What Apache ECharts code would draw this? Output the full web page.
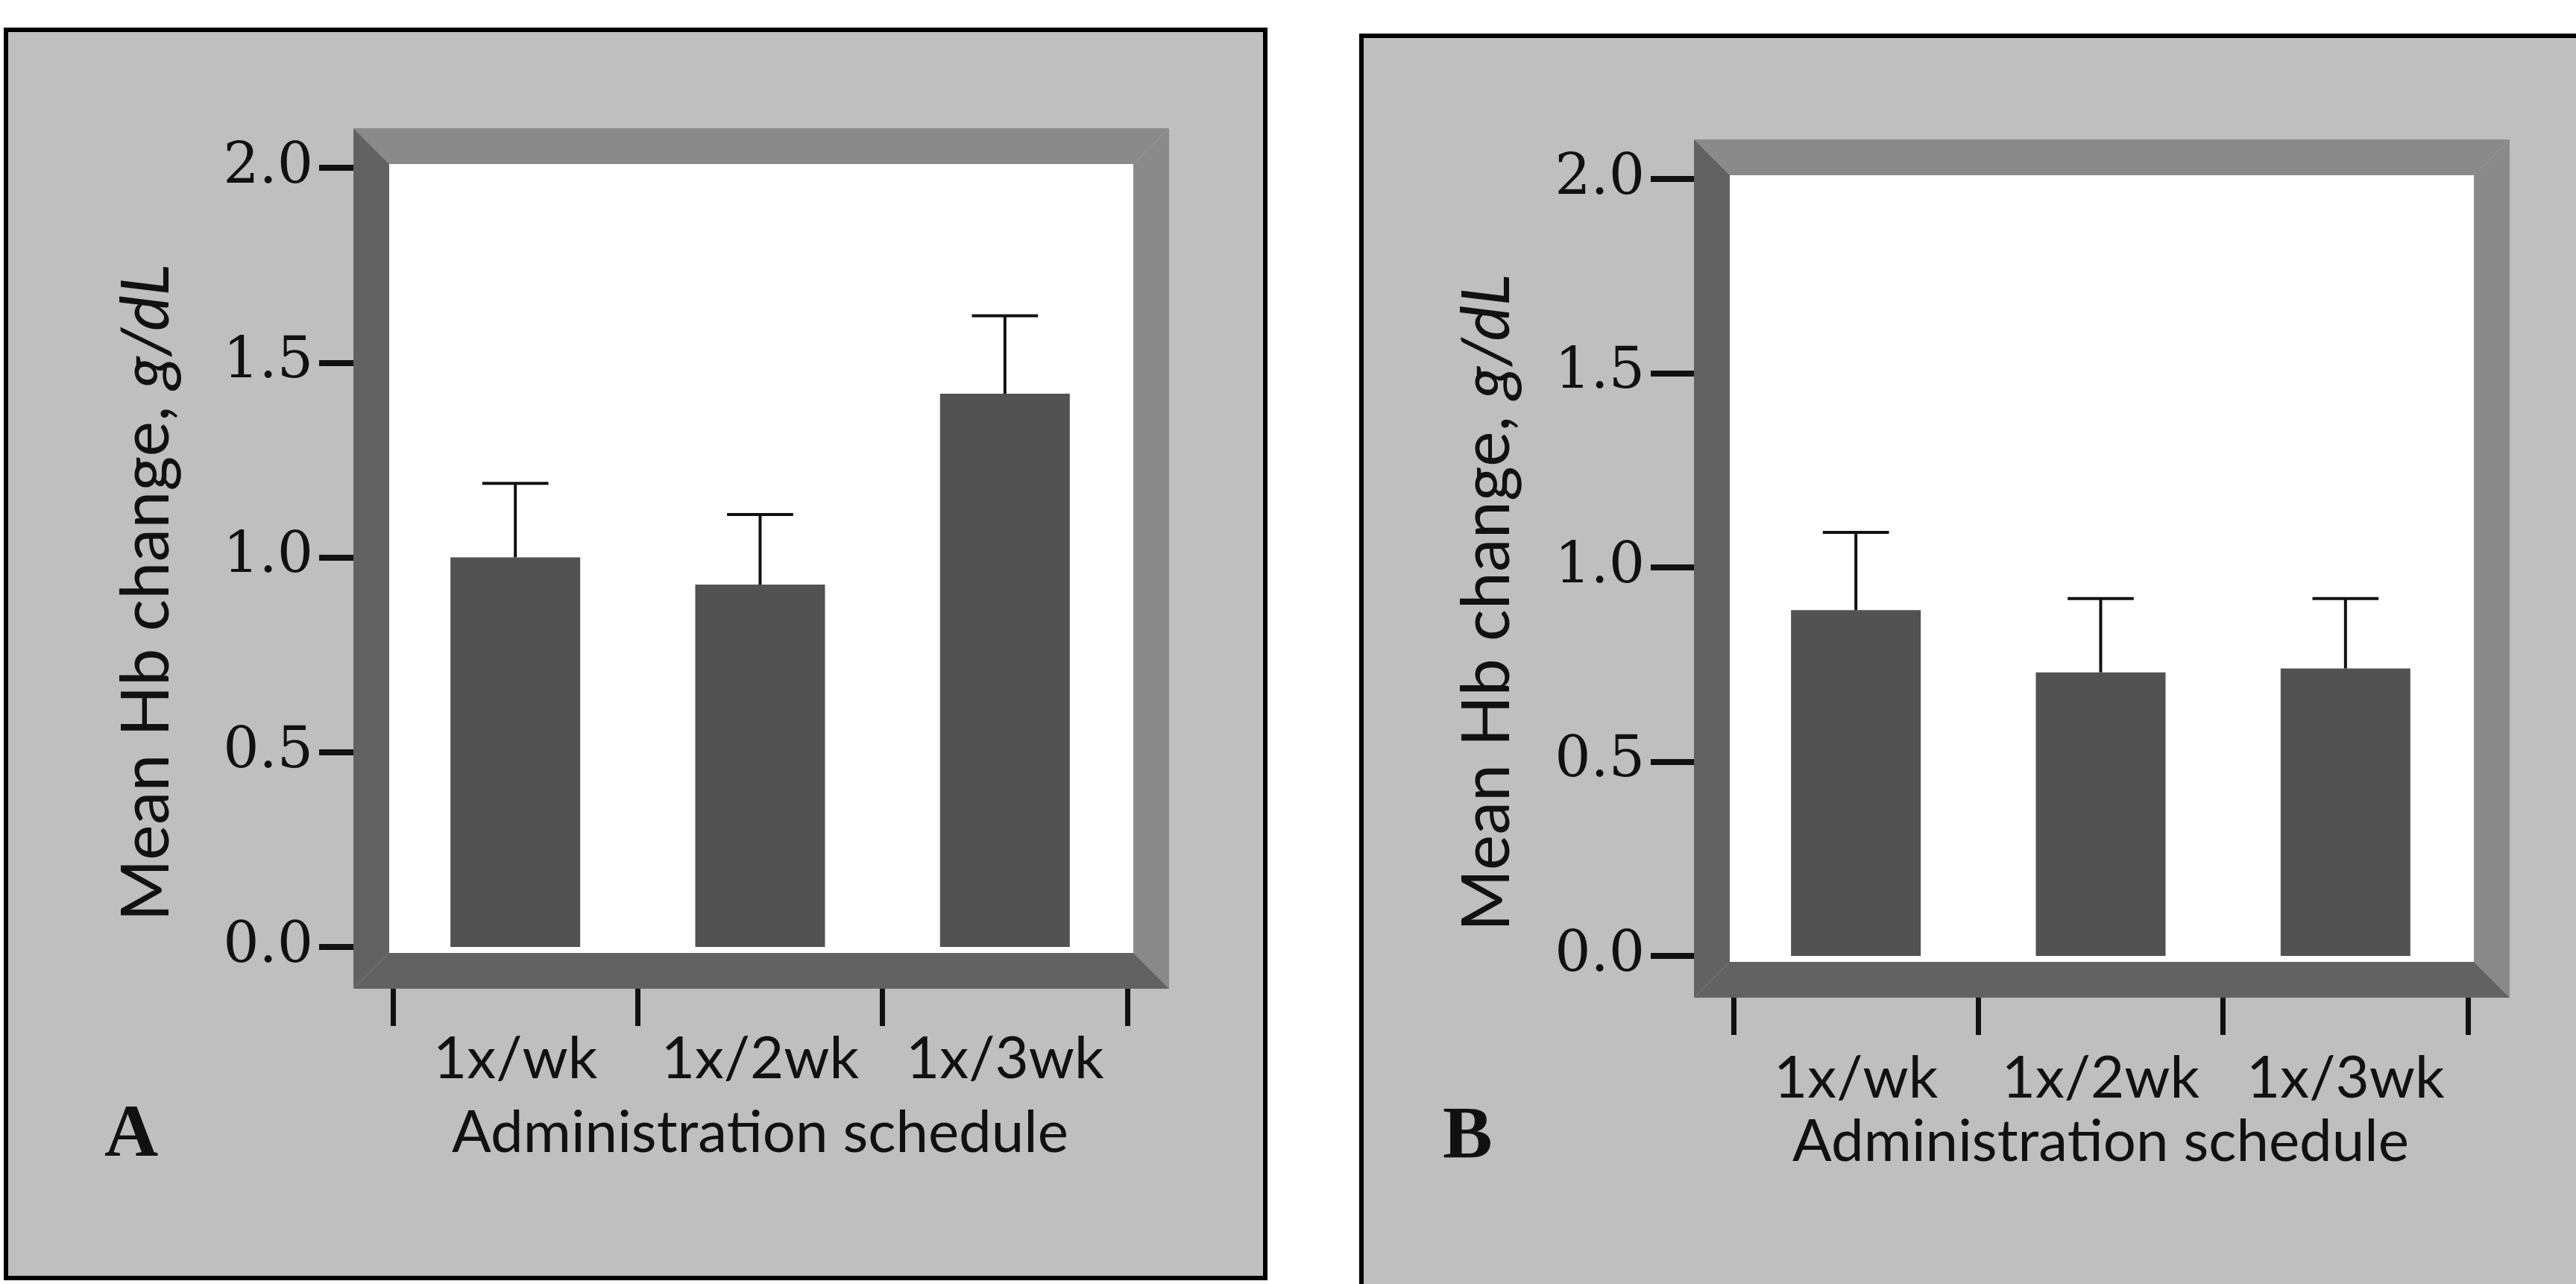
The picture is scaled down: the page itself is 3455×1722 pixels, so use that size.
<!DOCTYPE html>
<html><head><meta charset="utf-8">
<script src="https://cdn.jsdelivr.net/npm/echarts@6/dist/echarts.min.js"></script>
<style>html,body{margin:0;padding:0;background:#fff;}#c{width:3455px;height:1722px;}</style>
</head><body><div id="c"></div>
<script>
// ---- data ----
const categories = ['1x/wk', '1x/2wk', '1x/3wk'];
const meanA = [1.00, 0.93, 1.42];
const upperA = [1.19, 1.11, 1.62];
const meanB = [0.89, 0.73, 0.74];
const upperB = [1.09, 0.92, 0.92];
const yMin = 0, yMax = 2, yStep = 0.5;
const panelLetters = ['A', 'B'];
const xTitle = 'Administration schedule';
const yTitle = 'Mean Hb change, {i|g/dL}';

// ---- layout ----
const GA = {left: 527, top: 225, width: 985, height: 1045};
const GB = {left: 2325, top: 240, width: 985, height: 1042};
const BG = '#bfbfbf', LIGHT = '#8a8a8a', DARK = '#626262', BAR = '#525252', INK = '#111';

function frame(g) {
  const L = g.left, T = g.top, R = g.left + g.width, B = g.top + g.height;
  const li = L - 5, lo = L - 53, ti = T - 5, to = T - 53, ri = R + 8, ro = R + 56, bi = B + 8, bo = B + 56;
  return [
    {type: 'polygon', z2: 2, shape: {points: [[lo, to], [ro, to], [ri, ti], [li, ti]]}, style: {fill: LIGHT}},
    {type: 'polygon', z2: 2, shape: {points: [[ro, to], [ro, bo], [ri, bi], [ri, ti]]}, style: {fill: LIGHT}},
    {type: 'polygon', z2: 3, shape: {points: [[lo, to], [li, ti], [li, bi], [lo, bo]]}, style: {fill: DARK}},
    {type: 'polygon', z2: 3, shape: {points: [[lo, bo], [ro, bo], [ri, bi], [li, bi]]}, style: {fill: DARK}},
    {type: 'rect', z2: 4, shape: {x: li, y: ti, width: ri - li, height: bi - ti}, style: {fill: '#fff'}}
  ];
}

const graphics = [
  {type: 'rect', z2: 1, shape: {x: 8, y: 40, width: 1689, height: 1674}, style: {fill: BG, stroke: '#000', lineWidth: 6}},
  {type: 'rect', z2: 1, shape: {x: 1826, y: 48, width: 1700, height: 1720}, style: {fill: BG, stroke: '#000', lineWidth: 6}},
  ...frame(GA), ...frame(GB),
  {type: 'text', z2: 5, left: 140, top: 1474, style: {text: panelLetters[0], font: 'bold 100px "Liberation Serif"', fill: INK}},
  {type: 'text', z2: 5, left: 1935, top: 1476, style: {text: panelLetters[1], font: 'bold 100px "Liberation Serif"', fill: INK}}
];

function xAxisFor(gi, labelMargin) {
  return {
    type: 'category', gridIndex: gi, data: categories, position: 'bottom', offset: 56,
    axisLine: {show: true, onZero: false, lineStyle: {color: INK, width: 1, opacity: 0}},
    axisTick: {show: true, interval: 0, inside: false, length: 50, lineStyle: {color: INK, width: 7, opacity: 1}},
    axisLabel: {show: true, interval: 0, hideOverlap: false, margin: labelMargin, fontFamily: 'Lato', fontSize: 78, color: INK},
    name: xTitle, nameLocation: 'middle', nameGap: 155,
    nameTextStyle: {fontFamily: 'Lato', fontSize: 78, color: INK}
  };
}
function yAxisFor(gi, tickLen) {
  return {
    type: 'value', gridIndex: gi, min: yMin, max: yMax, interval: yStep, offset: 53,
    axisLine: {show: true, onZero: false, lineStyle: {color: INK, width: 1, opacity: 0}},
    axisTick: {show: true, length: tickLen, lineStyle: {color: INK, width: 8, opacity: 1}},
    axisLabel: {margin: tickLen + 8, fontFamily: 'DejaVu Serif', fontSize: 76, color: INK,
      formatter: v => v.toFixed(1)},
    splitLine: {show: false},
    name: yTitle, nameLocation: 'middle', nameRotate: 90, nameGap: 232,
    nameTextStyle: {fontFamily: 'Lato', fontSize: 90, color: INK, padding: [0, 95, 0, 0],
      rich: {i: {fontFamily: 'Lato', fontStyle: 'italic', fontSize: 90, color: INK}}}
  };
}
function barSeries(i, vals) {
  return {type: 'bar', xAxisIndex: i, yAxisIndex: i, data: vals, barWidth: '53%',
    itemStyle: {color: BAR}, z: 3};
}
function errSeries(i, mean, upper) {
  return {
    type: 'custom', xAxisIndex: i, yAxisIndex: i, z: 4,
    data: categories.map((c, k) => [k, mean[k], upper[k]]),
    renderItem: (params, api) => {
      const x = api.value(0);
      const base = api.coord([x, api.value(1)]);
      const top = api.coord([x, api.value(2)]);
      const hw = api.size([1, 0])[0] * 0.135;
      return {type: 'group', children: [
        {type: 'line', shape: {x1: top[0], y1: base[1], x2: top[0], y2: top[1]}, style: {stroke: INK, lineWidth: 4}},
        {type: 'line', shape: {x1: top[0] - hw, y1: top[1], x2: top[0] + hw, y2: top[1]}, style: {stroke: INK, lineWidth: 4}}
      ]};
    }
  };
}

const chart = echarts.init(document.getElementById('c'), null, {renderer: 'canvas'});
chart.setOption({
  backgroundColor: '#fff',
  animation: false,
  graphic: {elements: graphics},
  grid: [
    Object.assign({containLabel: false}, GA),
    Object.assign({containLabel: false}, GB)
  ],
  xAxis: [xAxisFor(0, 56), xAxisFor(1, 70)],
  yAxis: [yAxisFor(0, 46), yAxisFor(1, 58)],
  series: [barSeries(0, meanA), errSeries(0, meanA, upperA), barSeries(1, meanB), errSeries(1, meanB, upperB)]
});
</script>
</body></html>
